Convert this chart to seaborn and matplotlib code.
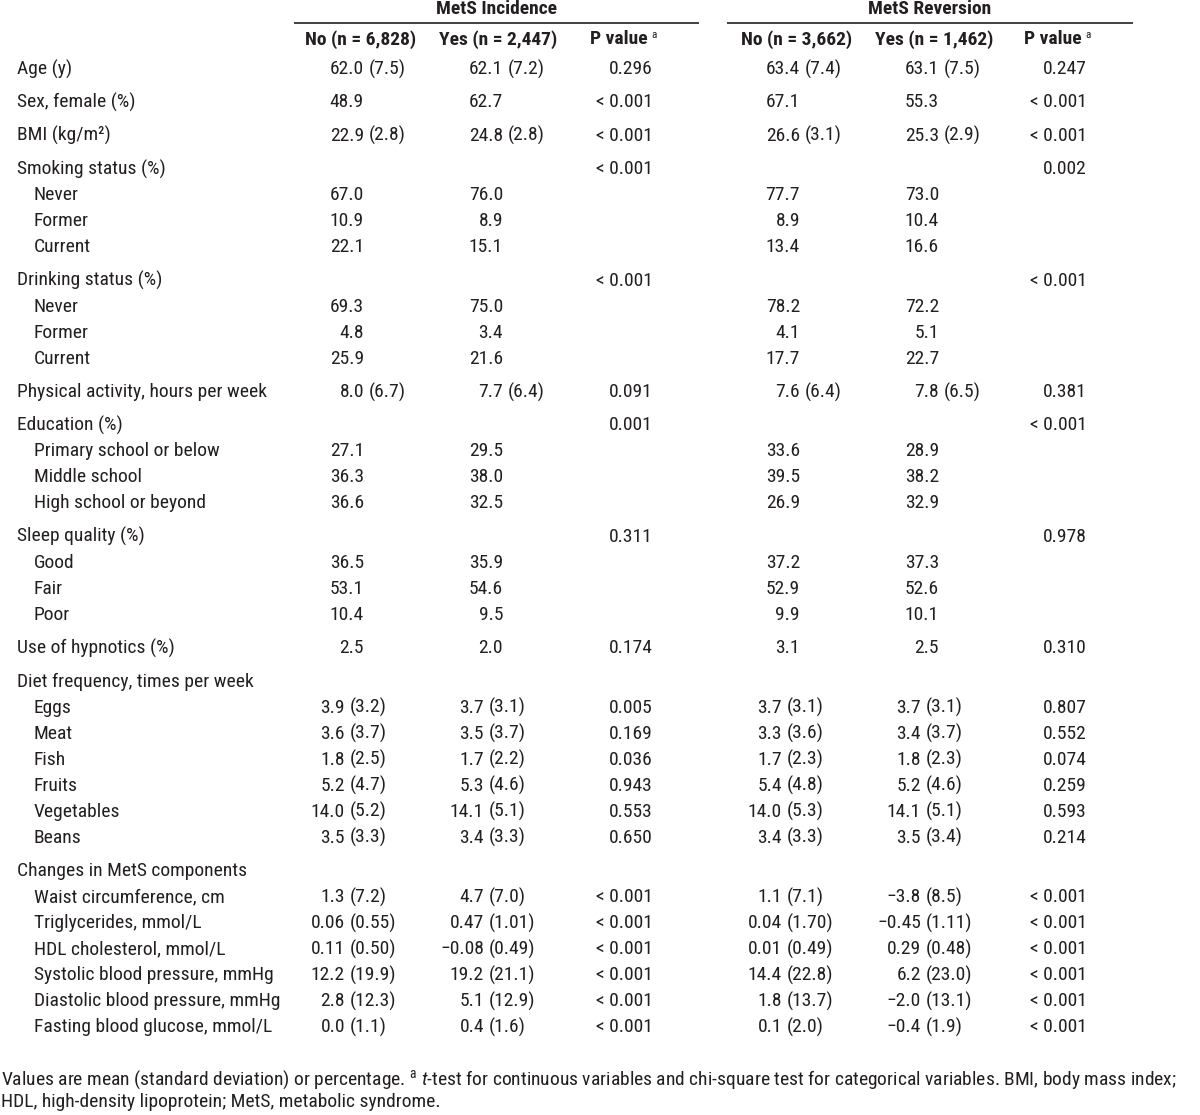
import matplotlib
matplotlib.use("Agg")
import matplotlib.pyplot as plt
from matplotlib import font_manager
import seaborn as sns

# === DATA (table cells as printed) ===
labels = [
    "Age (y)", "Sex, female (%)", "BMI (kg/m²)", "Smoking status (%)",
    "Never", "Former", "Current", "Drinking status (%)", "Never", "Former",
    "Current", "Physical activity, hours per week", "Education (%)",
    "Primary school or below", "Middle school", "High school or beyond",
    "Sleep quality (%)", "Good", "Fair", "Poor", "Use of hypnotics (%)",
    "Diet frequency, times per week", "Eggs", "Meat", "Fish", "Fruits",
    "Vegetables", "Beans", "Changes in MetS components",
    "Waist circumference, cm", "Triglycerides, mmol/L",
    "HDL cholesterol, mmol/L", "Systolic blood pressure, mmHg",
    "Diastolic blood pressure, mmHg", "Fasting blood glucose, mmol/L",
]
levels = [0, 0, 0, 0, 1, 1, 1, 0, 1, 1, 1, 0, 0, 1, 1, 1, 0, 1, 1, 1, 0,
          0, 1, 1, 1, 1, 1, 1, 0, 1, 1, 1, 1, 1, 1]

inc_no = ["62.0 (7.5)", "48.9", "22.9 (2.8)", "", "67.0", "10.9", "22.1", "",
          "69.3", "4.8", "25.9", "8.0 (6.7)", "", "27.1", "36.3", "36.6", "",
          "36.5", "53.1", "10.4", "2.5", "", "3.9 (3.2)", "3.6 (3.7)",
          "1.8 (2.5)", "5.2 (4.7)", "14.0 (5.2)", "3.5 (3.3)", "",
          "1.3 (7.2)", "0.06 (0.55)", "0.11 (0.50)", "12.2 (19.9)",
          "2.8 (12.3)", "0.0 (1.1)"]
inc_yes = ["62.1 (7.2)", "62.7", "24.8 (2.8)", "", "76.0", "8.9", "15.1", "",
           "75.0", "3.4", "21.6", "7.7 (6.4)", "", "29.5", "38.0", "32.5", "",
           "35.9", "54.6", "9.5", "2.0", "", "3.7 (3.1)", "3.5 (3.7)",
           "1.7 (2.2)", "5.3 (4.6)", "14.1 (5.1)", "3.4 (3.3)", "",
           "4.7 (7.0)", "0.47 (1.01)", "\u22120.08 (0.49)", "19.2 (21.1)",
           "5.1 (12.9)", "0.4 (1.6)"]
inc_p = ["0.296", "< 0.001", "< 0.001", "< 0.001", "", "", "", "< 0.001",
         "", "", "", "0.091", "0.001", "", "", "", "0.311", "", "", "",
         "0.174", "", "0.005", "0.169", "0.036", "0.943", "0.553", "0.650",
         "", "< 0.001", "< 0.001", "< 0.001", "< 0.001", "< 0.001", "< 0.001"]
rev_no = ["63.4 (7.4)", "67.1", "26.6 (3.1)", "", "77.7", "8.9", "13.4", "",
          "78.2", "4.1", "17.7", "7.6 (6.4)", "", "33.6", "39.5", "26.9", "",
          "37.2", "52.9", "9.9", "3.1", "", "3.7 (3.1)", "3.3 (3.6)",
          "1.7 (2.3)", "5.4 (4.8)", "14.0 (5.3)", "3.4 (3.3)", "",
          "1.1 (7.1)", "0.04 (1.70)", "0.01 (0.49)", "14.4 (22.8)",
          "1.8 (13.7)", "0.1 (2.0)"]
rev_yes = ["63.1 (7.5)", "55.3", "25.3 (2.9)", "", "73.0", "10.4", "16.6", "",
           "72.2", "5.1", "22.7", "7.8 (6.5)", "", "28.9", "38.2", "32.9", "",
           "37.3", "52.6", "10.1", "2.5", "", "3.7 (3.1)", "3.4 (3.7)",
           "1.8 (2.3)", "5.2 (4.6)", "14.1 (5.1)", "3.5 (3.4)", "",
           "\u22123.8 (8.5)", "\u22120.45 (1.11)", "0.29 (0.48)", "6.2 (23.0)",
           "\u22122.0 (13.1)", "\u22120.4 (1.9)"]
rev_p = ["0.247", "< 0.001", "< 0.001", "0.002", "", "", "", "< 0.001",
         "", "", "", "0.381", "< 0.001", "", "", "", "0.978", "", "", "",
         "0.310", "", "0.807", "0.552", "0.074", "0.259", "0.593", "0.214",
         "", "< 0.001", "< 0.001", "< 0.001", "< 0.001", "< 0.001", "< 0.001"]

groups = ["MetS Incidence", "MetS Reversion"]
col_heads = ["No (n = 6,828)", "Yes (n = 2,447)", "No (n = 3,662)", "Yes (n = 1,462)"]
footnote = [
    "Values are mean (standard deviation) or percentage. $^{\\mathrm{a}}$ "
    "$\\mathit{t}$-test for continuous variables and chi-square test for "
    "categorical variables. BMI, body mass index;",
    "HDL, high-density lipoprotein; MetS, metabolic syndrome.",
]

# === STYLE ===
sns.set_theme(style="white")
available = {f.name for f in font_manager.fontManager.ttflist}
FONT = next((f for f in ["Liberation Sans Narrow", "Roboto Condensed", "Archivo Narrow"]
             if f in available), "DejaVu Sans")
plt.rcParams["font.family"] = [FONT, "DejaVu Sans"]
if FONT == "DejaVu Sans":
    plt.rcParams["font.stretch"] = "condensed"
plt.rcParams["mathtext.fontset"] = "custom"
plt.rcParams["mathtext.rm"] = FONT
plt.rcParams["mathtext.it"] = FONT + ":italic"
INK = "#231f20"
FS = 14
W, H = 1200, 1115

# mean right-edge anchors (pixels): section A (age..hypnotics), section B (diet, changes)
value_cols = [inc_no, inc_yes, rev_no, rev_yes]
anchor_a = [364, 503, 800, 939]
anchor_b = [345, 484, 782, 921]
p_cols = [inc_p, rev_p]
p_right = [653, 1087]
section_b_start = labels.index("Diet frequency, times per week")

fig = plt.figure(figsize=(W / 100, H / 100), dpi=100)
ax = fig.add_axes([0, 0, 1, 1])
ax.set_xlim(0, W)
ax.set_ylim(H, 0)
ax.axis("off")

# header
for name, (x0, x1) in zip(groups, [(294, 699), (727, 1133)]):
    ax.text((x0 + x1) / 2, 9, name, ha="center", va="center",
            fontsize=FS, fontweight="bold", color=INK)
    ax.plot([x0, x1], [22.5, 22.5], color=INK, lw=1.2, solid_capstyle="butt")
for name, xc in zip(col_heads, [361, 498, 797, 934]):
    ax.text(xc, 39.5, name, ha="center", va="center",
            fontsize=FS, fontweight="bold", color=INK)
for xr in [1082 - 434, 1082]:
    ax.text(xr, 39.5, "P value", ha="right", va="center",
            fontsize=FS, fontweight="bold", color=INK)
    ax.text(xr + 3, 35, "a", ha="left", va="center", fontsize=8, color=INK)

# body rows
y = 69
for i, lab in enumerate(labels):
    if i > 0:
        y += 26 + (7.4 if levels[i] == 0 else 0)
    ax.text(17 + 16.5 * levels[i], y, lab, ha="left", va="center",
            fontsize=FS, color=INK)
    anchors = anchor_b if i >= section_b_start else anchor_a
    for col, xa in zip(value_cols, anchors):
        cell = col[i]
        if not cell:
            continue
        if "(" in cell:
            mean, sd = cell.split(" ", 1)
            ax.text(xa, y, mean, ha="right", va="center", fontsize=FS, color=INK)
            ax.text(xa + 4.5, y, sd, ha="left", va="center", fontsize=FS, color=INK)
        else:
            ax.text(xa, y, cell, ha="right", va="center", fontsize=FS, color=INK)
    for col, xr in zip(p_cols, p_right):
        if col[i]:
            ax.text(xr, y, col[i], ha="right", va="center", fontsize=FS, color=INK)

for k, line in enumerate(footnote):
    ax.text(1, 1080 + 22 * k, line, ha="left", va="center",
            fontsize=FS, color=INK)

fig.savefig("out.png", dpi=100, facecolor="white")
